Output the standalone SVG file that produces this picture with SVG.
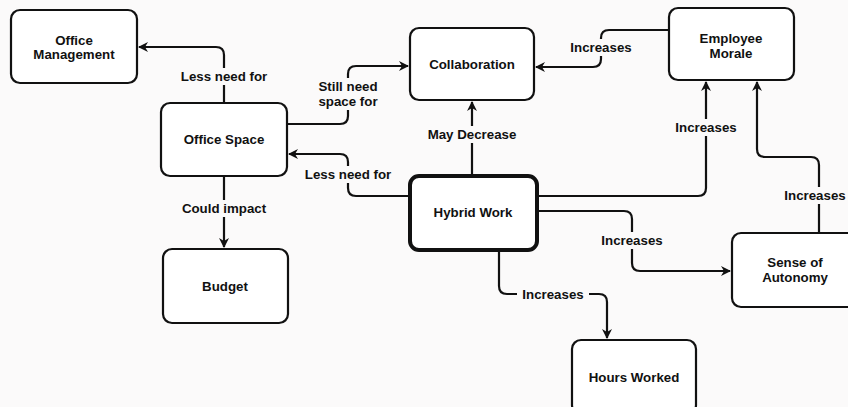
<svg xmlns="http://www.w3.org/2000/svg" width="848" height="407" viewBox="0 0 848 407">
<defs>
<marker id="ah" markerWidth="10" markerHeight="10" refX="9" refY="5" orient="auto" markerUnits="userSpaceOnUse">
<path d="M0,0 L10,5 L0,10 L3,5 Z" fill="#111"/>
</marker>
</defs>
<style>
.node{fill:#fff;stroke:#111;stroke-width:2.2}
.thick{stroke-width:4}
.t{font-family:"Liberation Sans",Arial,sans-serif;font-weight:bold;font-size:13.3px;fill:#111;text-anchor:middle}
.c{fill:none;stroke:#111;stroke-width:2.2;marker-end:url(#ah)}
.lb{fill:#fbfafa}
</style>
<rect width="848" height="407" fill="#fbfafa"/>
<g id="connectors">
<path class="c" d="M224,103 V55 Q224,47 216,47 H139"/>
<path class="c" d="M287,124 H340 Q348,124 348,116 V74 Q348,66 356,66 H408"/>
<path class="c" d="M410,196 H356 Q348,196 348,188 V162 Q348,154 340,154 H289"/>
<path class="c" d="M224,176 V247"/>
<path class="c" d="M472,176 V102"/>
<path class="c" d="M669,30 H609 Q601,30 601,38 V59 Q601,67 593,67 H536"/>
<path class="c" d="M537,196 H698 Q706,196 706,188 V82"/>
<path class="c" d="M819,233 V165 Q819,157 811,157 H765 Q757,157 757,149 V82"/>
<path class="c" d="M537,211 H624 Q632,211 632,219 V263 Q632,271 640,271 H730"/>
<path class="c" d="M499,250 V286 Q499,294 507,294 H599 Q607,294 607,302 V338"/>
<rect class="lb" x="175" y="68" width="98" height="17"/>
<rect class="lb" x="324" y="78" width="48" height="32"/>
<rect class="lb" x="299" y="166" width="98" height="17"/>
<rect class="lb" x="177" y="200" width="94" height="17"/>
<rect class="lb" x="418" y="126" width="108" height="17"/>
<rect class="lb" x="565" y="39" width="72" height="17"/>
<rect class="lb" x="670" y="119" width="72" height="17"/>
<rect class="lb" x="779" y="187" width="72" height="17"/>
<rect class="lb" x="596" y="232" width="72" height="17"/>
<rect class="lb" x="517" y="286" width="72" height="17"/>
<text class="t" x="224" y="81">Less need for</text>
<text class="t" x="348" y="91">Still need</text>
<text class="t" x="348" y="106">space for</text>
<text class="t" x="348" y="179">Less need for</text>
<text class="t" x="224" y="213">Could impact</text>
<text class="t" x="472" y="139">May Decrease</text>
<text class="t" x="601" y="52">Increases</text>
<text class="t" x="706" y="132">Increases</text>
<text class="t" x="815" y="200">Increases</text>
<text class="t" x="632" y="245">Increases</text>
<text class="t" x="553" y="299">Increases</text>
</g>
<g id="office-management">
<rect class="node" x="11" y="10" width="126" height="73" rx="9"/>
<text class="t" x="74" y="45">Office</text>
<text class="t" x="74" y="59">Management</text>
</g>
<g id="office-space">
<rect class="node" x="161" y="103" width="126" height="73" rx="9"/>
<text class="t" x="224" y="144">Office Space</text>
</g>
<g id="collaboration">
<rect class="node" x="410" y="28" width="124" height="72" rx="9"/>
<text class="t" x="472" y="69">Collaboration</text>
</g>
<g id="employee-morale">
<rect class="node" x="669" y="8" width="125" height="72" rx="9"/>
<text class="t" x="731" y="43">Employee</text>
<text class="t" x="731" y="58">Morale</text>
</g>
<g id="hybrid-work">
<rect class="node thick" x="410" y="176" width="127" height="74" rx="9"/>
<text class="t" x="473" y="217">Hybrid Work</text>
</g>
<g id="budget">
<rect class="node" x="163" y="249" width="125" height="74" rx="9"/>
<text class="t" x="225" y="291">Budget</text>
</g>
<g id="sense-of-autonomy">
<rect class="node" x="732" y="233" width="126" height="74" rx="9"/>
<text class="t" x="795" y="267">Sense of</text>
<text class="t" x="795" y="282">Autonomy</text>
</g>
<g id="hours-worked">
<rect class="node" x="572" y="340" width="124" height="74" rx="9"/>
<text class="t" x="634" y="382">Hours Worked</text>
</g>
</svg>
